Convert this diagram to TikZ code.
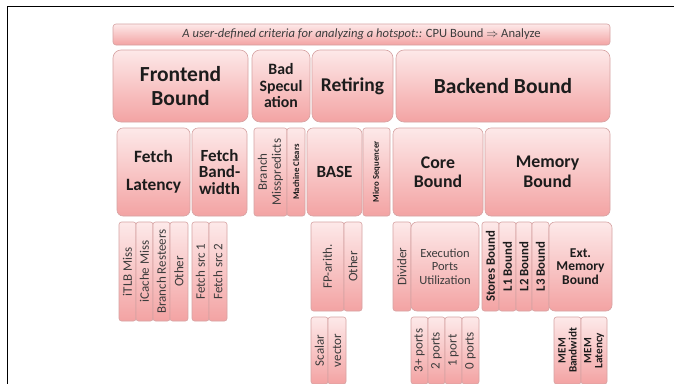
\documentclass[tikz,border=0pt]{standalone}
\usepackage{fontspec}
\setmainfont{Carlito}
\definecolor{pkTop}{HTML}{FDE9E9}
\definecolor{pkBot}{HTML}{F3A3A3}
\definecolor{pkLine}{HTML}{D6A3A3}
\definecolor{txtDark}{HTML}{1C1C1C}
\definecolor{txtGray}{HTML}{3C3C3C}
\newcommand\hf[2]{\fontsize{#1}{#2}\selectfont\bfseries}
\newcommand\rf[2]{\fontsize{#1}{#2}\selectfont}
\tikzset{
  pbox/.style={draw=pkLine, line width=0.6pt, rounded corners=#1, top color=pkTop, bottom color=pkBot,
    inner sep=0pt, outer sep=0pt, align=center, text=txtDark},
  pbox/.default=3pt,
  bigbox/.style={pbox=8pt},
  midbox/.style={pbox=6pt},
  smallbox/.style={pbox=2.5pt},
  rtxt/.style={rotate=90, align=center, inner sep=0pt},
  frameline/.style={line width=1.6pt, draw=black}
}
% name, x1, y1, x2, y2, box style, text
\newcommand\bx[7]{\node[#6, minimum width={#4-#2}, minimum height={#5-#3}] (#1) at ({(#2+#4)/2},{(#3+#5)/2}) {#7};}
% name, x1, y1, x2, y2, box style, font, text (rotated)
\newcommand\rbx[8]{\node[#6, minimum width={#4-#2}, minimum height={#5-#3}] (#1) at ({(#2+#4)/2},{(#3+#5)/2}) {};
  \node[rtxt, font=#7] (#1-t) at (#1.center) {#8};}
\begin{document}
\begin{tikzpicture}[x=1pt,y=-1pt]
\clip (0,0) rectangle (674,383);
\fill[white] (0,0) rectangle (674,383);
\draw[frameline] (7.5,384) -- (7.5,6.6) -- (675,6.6);

% header bar
\bx{hdr}{113}{24}{610}{45}{pbox=3pt}{\rf{12.6}{14}\color{txtGray}\itshape A user-defined criteria for analyzing a hotspot:: \upshape CPU Bound $\Rightarrow$ Analyze}

% row 1
\bx{fb}{113}{50}{248}{122}{bigbox, font=\hf{21.5}{24}}{Frontend\\Bound}
\bx{bs}{252}{50}{310}{122}{bigbox, font=\hf{15.8}{16.5}}{Bad\\Specul\\ation}
\bx{ret}{312}{50}{393}{122}{bigbox, font=\hf{19.5}{23}}{Retiring}
\bx{be}{396}{50}{610}{122}{bigbox, font=\hf{21.5}{24}}{Backend Bound}

% row 2
\bx{fl}{117}{128}{190}{216}{midbox, font=\hf{17.3}{28}}{Fetch\\Latency}
\bx{fbw}{192}{128}{247}{216}{midbox, font=\hf{17}{16.5}}{Fetch\\Band-\\width}
\rbx{bm}{254}{128}{287}{216}{smallbox}{\rf{13}{14}\color{txtGray}}{Branch\\Misspredicts}
\rbx{mc}{287}{128}{305}{216}{smallbox}{\hf{8.7}{10}\color{txtDark}}{Machine Clears}
\bx{base}{307}{128}{362}{216}{midbox, font=\hf{17}{19}}{BASE}
\rbx{ms}{363}{128}{390}{216}{smallbox}{\hf{8.7}{10}\color{txtDark}}{Micro Sequencer}
\bx{cb}{393}{128}{483}{216}{midbox, font=\hf{17.8}{19.5}}{Core\\Bound}
\bx{mb}{485}{128}{610}{216}{midbox, font=\hf{17.8}{19.5}}{Memory\\Bound}

% row 3
\rbx{itlb}{119}{222}{136}{321}{smallbox}{\rf{13}{14}\color{txtGray}}{iTLB Miss}
\rbx{icm}{136}{222}{153}{321}{smallbox}{\rf{13}{14}\color{txtGray}}{iCache Miss}
\rbx{brs}{153}{222}{170}{321}{smallbox}{\rf{13}{14}\color{txtGray}}{Branch Resteers}
\rbx{oth1}{170}{222}{188}{321}{smallbox}{\rf{13}{14}\color{txtGray}}{Other}
\rbx{fs1}{192}{222}{209}{321}{smallbox}{\rf{13}{14}\color{txtGray}}{Fetch src 1}
\rbx{fs2}{209}{222}{227}{321}{smallbox}{\rf{13}{14}\color{txtGray}}{Fetch src 2}
\rbx{fpa}{311}{222}{344}{311}{smallbox}{\rf{13}{14}\color{txtGray}}{FP-arith.}
\rbx{oth2}{344}{222}{362}{311}{smallbox}{\rf{13}{14}\color{txtGray}}{Other}
\rbx{div}{393}{222}{411}{311}{smallbox}{\rf{13}{14}\color{txtGray}}{Divider}
\bx{epu}{411}{222}{479}{311}{pbox=6pt, font=\rf{12.5}{13.5}, text=txtGray}{Execution\\Ports\\Utilization}
\rbx{stb}{482}{222}{499}{311}{smallbox}{\hf{12.8}{14}\color{txtDark}}{Stores Bound}
\rbx{l1b}{499}{222}{516}{311}{smallbox}{\hf{12.8}{14}\color{txtDark}}{L1 Bound}
\rbx{l2b}{516}{222}{532}{311}{smallbox}{\hf{12.8}{14}\color{txtDark}}{L2 Bound}
\rbx{l3b}{532}{222}{549}{311}{smallbox}{\hf{12.8}{14}\color{txtDark}}{L3 Bound}
\bx{emb}{549}{222}{612}{311}{pbox=6pt, font=\hf{13.5}{13.5}}{Ext.\\Memory\\Bound}

% row 4
\rbx{scl}{311}{317}{328}{384}{smallbox}{\rf{13}{14}\color{txtGray}}{Scalar}
\rbx{vec}{328}{317}{346}{384}{smallbox}{\rf{13}{14}\color{txtGray}}{vector}
\rbx{pt3}{411}{317}{428}{384}{smallbox}{\rf{13}{14}\color{txtGray}}{3+ ports}
\rbx{pt2}{428}{317}{445}{384}{smallbox}{\rf{13}{14}\color{txtGray}}{2 ports}
\rbx{pt1}{445}{317}{462}{384}{smallbox}{\rf{13}{14}\color{txtGray}}{1 port}
\rbx{pt0}{462}{317}{479}{384}{smallbox}{\rf{13}{14}\color{txtGray}}{0 ports}
\rbx{mbw}{554}{317}{581}{384}{smallbox}{\hf{11.2}{11}\color{txtDark}}{MEM\\Bandwidt}
\rbx{mlt}{581}{317}{607}{384}{smallbox}{\hf{11.2}{11}\color{txtDark}}{MEM\\Latency}
\end{tikzpicture}
\end{document}
